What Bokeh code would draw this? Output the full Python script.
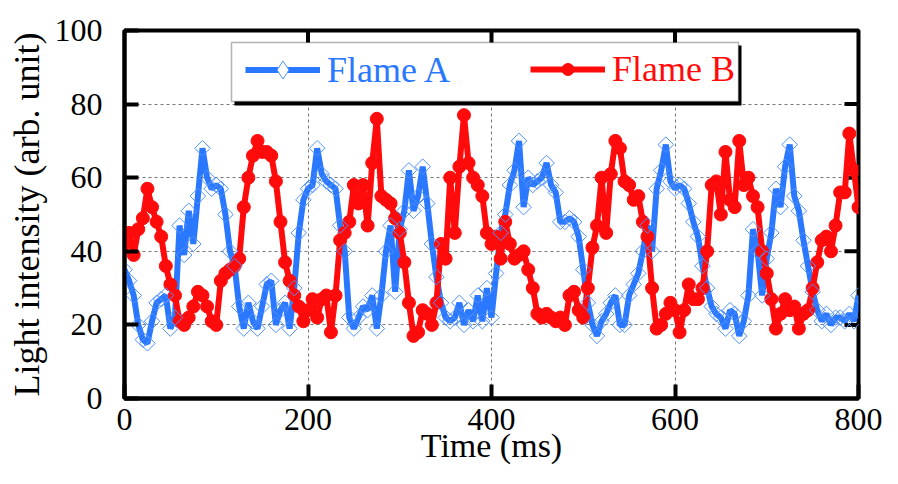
import numpy as np
from bokeh.plotting import figure
from bokeh.models import (Range1d, SingleIntervalTicker, Legend, LegendItem,
                          BoxAnnotation, ColumnDataSource, Title)
from bokeh.embed import file_html
from bokeh.resources import INLINE

# ---------------- data ----------------
time_ms = list(range(0, 801, 5))

flame_a = [35, 32, 28, 20, 16, 15, 21, 26, 27, 28, 19, 22, 47, 39, 51, 42, 55, 68, 60, 57,
           58, 57, 50, 40, 36, 25, 19, 26, 21, 19, 25, 31, 32, 20, 24, 26, 19, 30, 45, 54,
           57, 58, 68, 61, 59, 58, 57, 47, 40, 22, 19, 22, 25, 24, 28, 19, 28, 40, 47, 29,
           46, 51, 62, 51, 55, 63, 53, 42, 33, 26, 22, 21, 22, 26, 20, 24, 21, 28, 21, 30,
           22, 34, 45, 50, 58, 62, 70, 52, 60, 58, 59, 60, 64, 58, 56, 48, 48, 49, 48, 44,
           35, 26, 20, 17, 21, 23, 26, 28, 20, 20, 28, 31, 34, 40, 47, 40, 57, 62, 69, 59,
           57, 58, 57, 53, 48, 44, 36, 30, 25, 23, 22, 19, 24, 23, 17, 21, 28, 46, 40, 28,
           38, 45, 57, 52, 63, 69, 55, 51, 43, 36, 29, 24, 21, 23, 20, 22, 22, 21, 23, 21,
           28]

flame_b = [42, 45, 39, 46, 49, 57, 52, 48, 44, 36, 31, 28, 21, 20, 22, 25, 29, 28, 25, 21,
           20, 32, 34, 35, 36, 38, 52, 60, 66, 70, 67, 67, 66, 59, 48, 37, 32, 28, 25, 21,
           24, 27, 22, 27, 28, 18, 28, 43, 45, 48, 58, 53, 58, 47, 64, 76, 55, 54, 53, 49,
           45, 37, 26, 17, 18, 24, 23, 20, 26, 42, 38, 60, 45, 63, 77, 64, 60, 58, 55, 45,
           42, 44, 38, 48, 42, 38, 39, 40, 35, 30, 23, 22, 23, 22, 21, 22, 20, 28, 29, 24,
           22, 30, 41, 47, 60, 45, 61, 70, 68, 59, 58, 54, 55, 48, 44, 30, 19, 20, 23, 26,
           24, 18, 24, 31, 27, 27, 30, 40, 58, 59, 50, 67, 54, 52, 70, 58, 60, 55, 52, 40,
           34, 27, 19, 23, 27, 24, 25, 19, 23, 24, 30, 37, 43, 44, 40, 47, 56, 56, 72, 62,
           52]

series_names = ["Flame A", "Flame B"]
x_label = "Time (ms)"
y_label = "Light intensity (arb. unit)"
x_max, y_max = 800, 100
x_ticks_step = 200
y_ticks_step = 20

BLUE = "#2a78ff"
BLUE_MK = "#4f90ff"
RED = "#ff0b0b"
FONT = "Liberation Serif"

# layout (pixels)
W, H = 882, 468
B_LEFT, B_RIGHT, B_TOP, B_BOTTOM = 124, 24, 30, 70
FRAME_W = W - B_LEFT - B_RIGHT
FRAME_H = H - B_TOP - B_BOTTOM
TICK_PX = 14

src = ColumnDataSource(dict(t=time_ms, a=flame_a, b=flame_b))

p = figure(width=W, height=H, x_range=Range1d(0, x_max), y_range=Range1d(0, y_max),
           output_backend="svg", toolbar_location=None,
           min_border_left=B_LEFT, min_border_right=B_RIGHT,
           min_border_top=B_TOP, min_border_bottom=B_BOTTOM)

p.outline_line_color = "black"
p.outline_line_width = 4
p.background_fill_color = "white"
p.border_fill_color = "white"

xt = SingleIntervalTicker(interval=x_ticks_step, num_minor_ticks=0)
yt = SingleIntervalTicker(interval=y_ticks_step, num_minor_ticks=0)
p.xaxis.ticker = xt
p.yaxis.ticker = yt
p.xgrid.ticker = xt
p.ygrid.ticker = yt

for g in (p.xgrid, p.ygrid):
    g.grid_line_color = "#777777"
    g.grid_line_width = 1
    g.grid_line_dash = "3 3"

for ax in (p.xaxis[0], p.yaxis[0]):
    ax.axis_line_width = 4
    ax.axis_line_color = "black"
    ax.major_tick_in = TICK_PX
    ax.major_tick_out = 0
    ax.major_tick_line_width = 4
    ax.major_tick_line_color = "black"
    ax.minor_tick_line_color = None
    ax.major_label_text_font = FONT
    ax.major_label_text_font_size = "32px"
    ax.major_label_text_color = "black"
    ax.axis_label_text_font = FONT
    ax.axis_label_text_font_style = "normal"
    ax.axis_label_text_color = "black"

p.xaxis.major_label_standoff = 10
p.yaxis.major_label_standoff = 22
p.yaxis.axis_label = y_label
p.yaxis.axis_label_text_font_size = "36px"
p.yaxis.axis_label_standoff = 5

p.add_layout(Title(text=x_label, align="center", text_font=FONT, text_font_size="34px",
                   text_font_style="normal", text_color="black",
                   vertical_align="bottom", standoff=-15), "below")

# mirrored inward ticks on the top and right edges of the frame
xt_pos = list(range(x_ticks_step, x_max, x_ticks_step))
yt_pos = list(range(y_ticks_step, y_max, y_ticks_step))
dy = TICK_PX * y_max / FRAME_H
dx = TICK_PX * x_max / FRAME_W
p.segment(x0=xt_pos, y0=[y_max] * len(xt_pos), x1=xt_pos, y1=[y_max - dy] * len(xt_pos),
          line_color="black", line_width=4)
p.segment(x0=[x_max] * len(yt_pos), y0=yt_pos, x1=[x_max - dx] * len(yt_pos), y1=yt_pos,
          line_color="black", line_width=4)

# ---------------- series ----------------
line_a = p.line("t", "a", source=src, line_color=BLUE, line_width=6)
line_b = p.line("t", "b", source=src, line_color=RED, line_width=6)
mk_b = p.scatter("t", "b", source=src, marker="circle", size=13,
                 fill_color=RED, line_color=RED, line_width=1)
mk_a = p.scatter("t", "a", source=src, marker="square", angle=np.pi / 4, size=11,
                 fill_color=None, line_color=BLUE_MK, line_width=1)
# key-only diamond for Flame A (hidden on the plot, drawn in the legend)
key_a = p.scatter("t", "a", source=src, marker="diamond", fill_color="white",
                  line_color=BLUE_MK, line_width=1, visible=False)

# ---------------- legend (box with shadow + two coloured entries) ----------------
BOX_L, BOX_R, BOX_T, BOX_B = 107, 614, 356, 297   # screen px, relative to frame bottom-left
SH = 3
shadow = BoxAnnotation(left=BOX_L + SH, right=BOX_R + SH, top=BOX_T - SH, bottom=BOX_B - SH - 1,
                       left_units="screen", right_units="screen",
                       top_units="screen", bottom_units="screen",
                       fill_color="black", fill_alpha=1, line_color=None)
box = BoxAnnotation(left=BOX_L, right=BOX_R, top=BOX_T, bottom=BOX_B,
                    left_units="screen", right_units="screen",
                    top_units="screen", bottom_units="screen",
                    fill_color="white", fill_alpha=1, line_color="black", line_width=1.5)
p.add_layout(shadow)
p.add_layout(box)

def make_legend(name, rends, color, loc, gh):
    return Legend(items=[LegendItem(label=name, renderers=rends)], location=loc,
                  orientation="horizontal", padding=0, margin=0, spacing=0,
                  glyph_width=75, glyph_height=gh, label_standoff=7,
                  label_text_font=FONT, label_text_font_size="36px",
                  label_text_color=color, border_line_alpha=0,
                  background_fill_alpha=0, label_text_baseline="middle",
                  inactive_fill_alpha=0)

p.add_layout(make_legend(series_names[0], [line_a, key_a], BLUE, (121, 306), 45))
p.add_layout(make_legend(series_names[1], [line_b, mk_b], RED, (406, 308), 30))

open("out.html", "w").write(file_html(p, INLINE))
